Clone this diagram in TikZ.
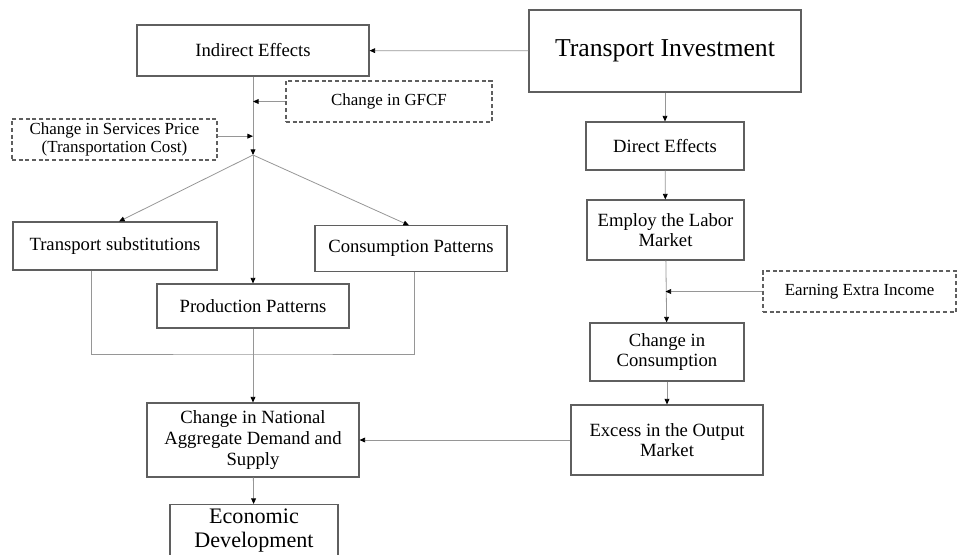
\documentclass[tikz,border=0pt]{standalone}
\usepackage{fontspec}
\setmainfont{Liberation Serif}
\usetikzlibrary{arrows.meta, positioning}
\definecolor{boxgray}{RGB}{95,95,95}
\definecolor{wiregray}{RGB}{150,150,150}

\begin{document}
\begin{tikzpicture}[x=0.75pt, y=-0.75pt,
    box/.style={draw=boxgray, line width=0.8pt, align=center, inner sep=2pt,
      font=\fontsize{14}{15.5}\selectfont},
    dbox/.style={box, dashed, dash pattern=on 3pt off 2pt, font=\fontsize{12.7}{14}\selectfont},
    wire/.style={draw=wiregray, line width=0.6pt},
    arr/.style={wire, -{Triangle[length=4.2pt, width=3.6pt, color=black]}}]
      \useasboundingbox (0,0) rectangle (962,554);
      % right column
      \node[box, minimum width=204pt, minimum height=61.5pt, font=\fontsize{19.3}{21}\selectfont] (inv) at (665,51) {Transport Investment};
      \node[box, minimum width=118.5pt, minimum height=36pt] (dir) at (665,146) {Direct Effects};
      \node[box, minimum width=117.75pt, minimum height=45pt] (emp) at (665.5,230) {Employ the Labor\\Market};
      \node[dbox, minimum width=144.75pt, minimum height=30.75pt] (earn) at (859.5,291.5) {Earning Extra Income};
      \node[box, minimum width=115.5pt, minimum height=43.5pt] (cons) at (667,352) {Change in\\Consumption};
      \node[box, minimum width=144pt, minimum height=52.5pt] (exc) at (667,440) {Excess in the Output\\Market};
      % left column
      \node[box, minimum width=174pt, minimum height=38.25pt] (ind) at (253,50.5) {Indirect Effects};
      \node[dbox, minimum width=154.5pt, minimum height=30.75pt] (gfcf) at (389,101.5) {Change in GFCF};
      \node[dbox, minimum width=153.75pt, minimum height=30.75pt] (price) at (114.5,139.5) {Change in Services Price\\(Transportation Cost)};
      \coordinate (split) at (253,155);
      \node[box, minimum width=153pt, minimum height=36pt] (tsub) at (115,246) {Transport substitutions};
      \node[box, minimum width=144pt, minimum height=34pt] (cpat) at (411,248.5) {Consumption Patterns};
      \node[box, minimum width=144pt, minimum height=33pt] (ppat) at (253,306) {Production Patterns};
      \coordinate (join) at (253,354);
      \node[box, minimum width=159pt, minimum height=55.5pt] (nat) at (253,440) {Change in National\\Aggregate Demand and\\Supply};
      \node[box, anchor=north, minimum width=126pt, inner ysep=3pt, font=\fontsize{16.6}{18}\selectfont] (eco) at (254,504) {Economic\\Development\\[6pt]};

      \draw[arr] (inv) -- (ind);
      \draw[arr] (inv) -- (dir);
      \draw[arr] (dir) -- (emp);
      \draw[arr] (emp) -- (cons);
      \draw[arr] (earn.west) -- (earn.west -| emp);
      \draw[arr] (cons) -- (exc);
      \draw[arr] (exc) -- (nat);
      \draw[arr] (ind) -- (split);
      \draw[arr] (gfcf.west) -- (gfcf.west -| split);
      \draw[arr] ([yshift=2.5pt]price.east) -- ([yshift=2.5pt]price.east -| split);
      \draw[arr] (split) -- ([xshift=3pt]tsub.north);
      \draw[arr] (split) -- ([xshift=-1.5pt]cpat.north);
      \draw[arr] (split) -- (ppat);
      \draw[wire] ([xshift=-18pt]tsub.south) |- (join) -| ([xshift=2.25pt]cpat.south);
      \draw[arr] (ppat) -- (nat);
      \draw[arr] (nat) -- (eco);
    \end{tikzpicture}
\end{document}
